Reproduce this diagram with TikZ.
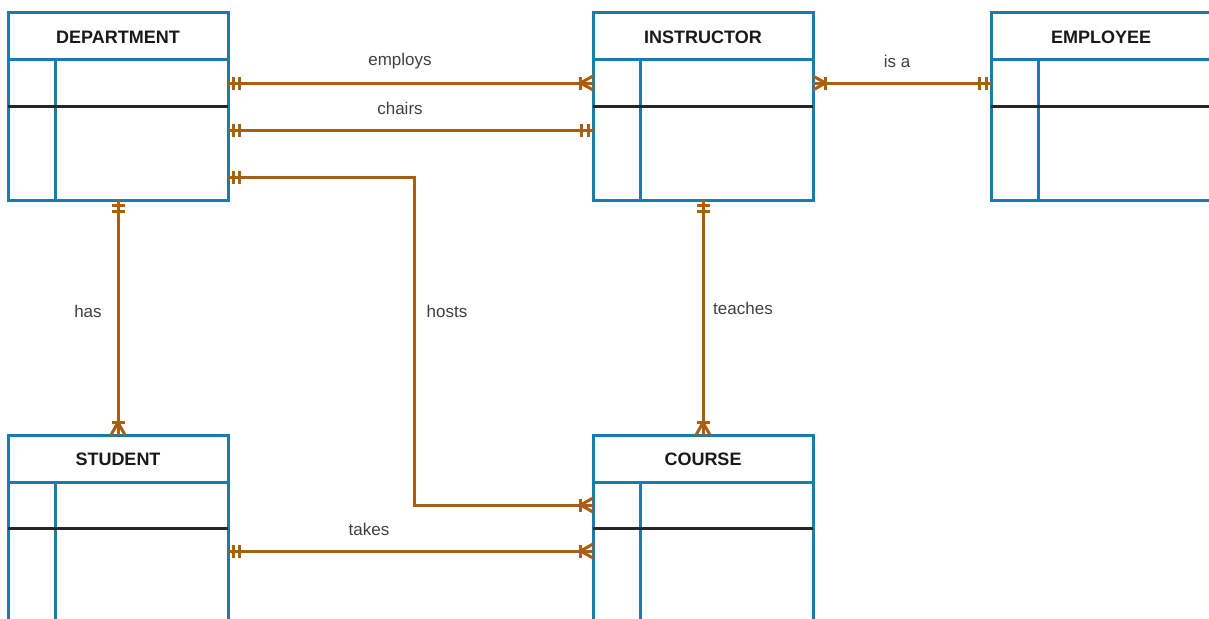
\documentclass[tikz,border=0pt]{standalone}
\usepackage{fontspec}
\setmainfont{Liberation Sans}
\usetikzlibrary{arrows.meta}

\definecolor{entblue}{HTML}{1A7CAD}
\definecolor{relbrown}{HTML}{AA5E12}
\definecolor{labgray}{HTML}{404040}

% ER notation: mandatory one (two bars)
\pgfdeclarearrow{
  name = ER one,
  parameters = {},
  setup code = {
    \pgfarrowssettipend{0pt}
    \pgfarrowssetlineend{0pt}
    \pgfarrowssetbackend{-13pt}
    \pgfarrowshullpoint{0pt}{7pt}
    \pgfarrowshullpoint{0pt}{-7pt}
    \pgfarrowshullpoint{-13pt}{7pt}
    \pgfarrowshullpoint{-13pt}{-7pt}
  },
  drawing code = {
    \pgfsetlinewidth{3pt}
    \pgfsetbuttcap
    \pgfpathmoveto{\pgfpoint{-5pt}{-6.5pt}}
    \pgfpathlineto{\pgfpoint{-5pt}{6.5pt}}
    \pgfpathmoveto{\pgfpoint{-11.5pt}{-6.5pt}}
    \pgfpathlineto{\pgfpoint{-11.5pt}{6.5pt}}
    \pgfusepathqstroke
  }
}

% ER notation: one or many (bar plus crow's foot)
\pgfdeclarearrow{
  name = ER many,
  parameters = {},
  setup code = {
    \pgfarrowssettipend{0pt}
    \pgfarrowssetlineend{0pt}
    \pgfarrowssetbackend{-14pt}
    \pgfarrowshullpoint{0pt}{7pt}
    \pgfarrowshullpoint{0pt}{-7pt}
    \pgfarrowshullpoint{-14pt}{7pt}
    \pgfarrowshullpoint{-14pt}{-7pt}
  },
  drawing code = {
    \pgfsetlinewidth{3pt}
    \pgfsetbuttcap
    \pgfsetmiterjoin
    \pgfpathmoveto{\pgfpoint{-12.5pt}{-6.5pt}}
    \pgfpathlineto{\pgfpoint{-12.5pt}{6.5pt}}
    \pgfusepathqstroke
    \pgfsetbeveljoin
    \pgfpathmoveto{\pgfpoint{0pt}{7pt}}
    \pgfpathlineto{\pgfpoint{-12.5pt}{0pt}}
    \pgfpathlineto{\pgfpoint{0pt}{-7pt}}
    \pgfusepathqstroke
  }
}

\tikzset{
  entbox/.style={draw=entblue, line width=3pt, fill=none,
    minimum width=220pt, minimum height=187pt, inner sep=0pt, outer sep=0pt},
  hdr/.style={font=\fontsize{18}{20}\selectfont\bfseries, text=black!90, inner sep=0pt},
  bl/.style={draw=entblue, line width=3pt},
  pk/.style={draw=black!85, line width=3pt},
  rel/.style={draw=relbrown, line width=3pt},
  lab/.style={font=\fontsize{17}{20}\selectfont, text=labgray, inner sep=0pt},
}

% entity box: name, left x, top y, title
\newcommand{\erentity}[4]{%
  \node[entbox] (#1) at (#2+110, #3+93.5) {};
  \node[hdr] (#1-title) at (#2+110, #3+24) {#4};
  \draw[bl] ([yshift=-47pt]#1.north west) -- ([yshift=-47pt]#1.north east);
  \draw[bl] ([xshift=47pt,yshift=-47pt]#1.north west) -- ([xshift=47pt]#1.south west);
  \draw[pk] ([yshift=-93pt]#1.north west) -- ([yshift=-93pt]#1.north east);
}

\begin{document}
\begin{tikzpicture}[x=1pt, y=-1pt]
  \useasboundingbox (0,0) rectangle (1209,618);
  \clip (0,0) rectangle (1209,618);

  \erentity{dept}{8}{13}{DEPARTMENT}
  \erentity{instr}{593}{13}{INSTRUCTOR}
  \erentity{empl}{991}{13}{EMPLOYEE}
  \erentity{stud}{8}{435}{STUDENT}
  \erentity{course}{593}{435}{COURSE}

  \coordinate (hostx) at (414,0);
  \coordinate (hostin) at ([yshift=-70pt]course.north west);

  % relationships
  \draw[rel, {ER one}-{ER many}] ([yshift=-70pt]dept.north east) -- ([yshift=-70pt]instr.north west);
  \draw[rel, {ER one}-{ER one}] ([yshift=-117pt]dept.north east) -- ([yshift=-117pt]instr.north west);
  \draw[rel, {ER one}-{ER many}] ([yshift=-164pt]dept.north east) coordinate (hostout)
     -- (hostout -| hostx) -- (hostx |- hostin) -- (hostin);
  \draw[rel, {ER many}-{ER one}] ([yshift=-70pt]instr.north east) -- ([yshift=-70pt]empl.north west);
  \draw[rel, {ER one}-{ER many}] (dept.south) -- (stud.north);
  \draw[rel, {ER one}-{ER many}] (instr.south) -- (course.north);
  \draw[rel, {ER one}-{ER many}] ([yshift=-116pt]stud.north east) -- ([yshift=-116pt]course.north west);

  % relationship labels
  \node[lab] (l-employs) at (400,61) {employs};
  \node[lab] (l-chairs) at (400,108) {chairs};
  \node[lab] (l-isa) at (897,61) {is a};
  \node[lab] (l-hosts) at (447,311) {hosts};
  \node[lab] (l-has) at (88,311) {has};
  \node[lab] (l-teaches) at (743,308) {teaches};
  \node[lab] (l-takes) at (369,529) {takes};
\end{tikzpicture}
\end{document}
